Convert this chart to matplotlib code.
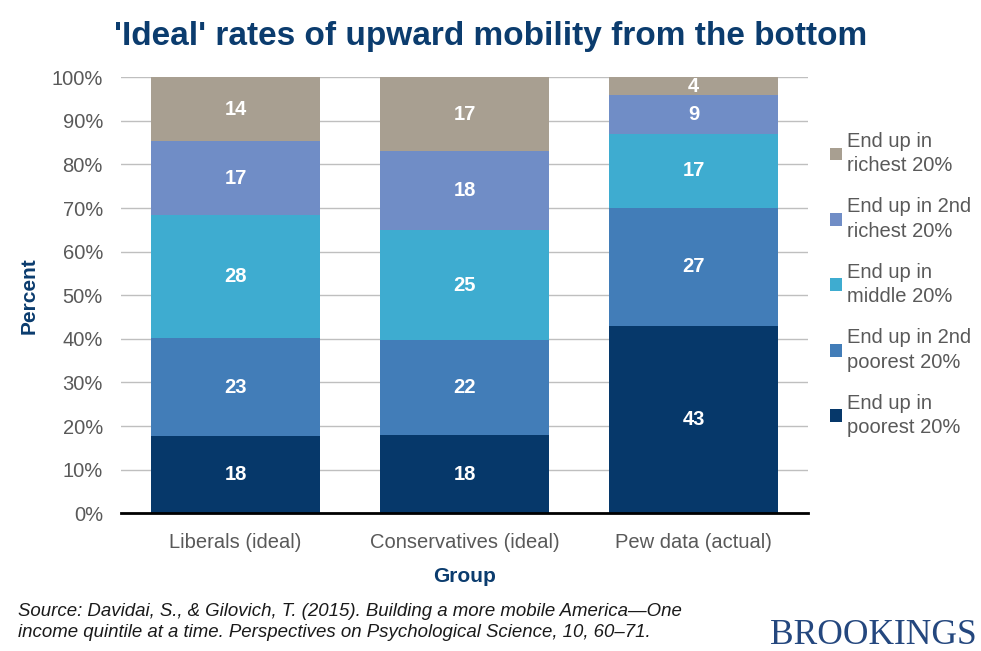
import matplotlib.pyplot as plt
import numpy as np

plt.rcParams['font.family'] = ['Liberation Sans', 'DejaVu Sans']

# Datos (porcentaje en cada quintil final)
groups = ['Liberals (ideal)', 'Conservatives (ideal)', 'Pew data (actual)']
series_names = ['End up in\npoorest 20%', 'End up in 2nd\npoorest 20%', 'End up in\nmiddle 20%',
                'End up in 2nd\nrichest 20%', 'End up in\nrichest 20%']
poorest = [17.7, 18.0, 43.0]
second_poorest = [22.5, 21.7, 27.0]
middle = [28.2, 25.3, 17.1]
second_richest = [17.0, 18.1, 8.8]
richest = [14.6, 16.9, 4.1]
# etiquetas tal como aparecen en las barras
labels_poorest = [18, 18, 43]
labels_second_poorest = [23, 22, 27]
labels_middle = [28, 25, 17]
labels_second_richest = [17, 18, 9]
labels_richest = [14, 17, 4]

colors = ['#06386A', '#427DB8', '#3EACD0', '#708DC6', '#A89F91']
navy = '#0B3C6E'

series = [poorest, second_poorest, middle, second_richest, richest]
labels = [labels_poorest, labels_second_poorest, labels_middle, labels_second_richest, labels_richest]

fig = plt.figure(figsize=(9.81, 6.51), dpi=100)
ax = fig.add_axes([121 / 981, 1 - 513.3 / 651, 687 / 981, 436 / 651])

x = np.arange(len(groups))
bottom = np.zeros(len(groups))
handles = []
for vals, labs, col, name in zip(series, labels, colors, series_names):
    b = ax.bar(x, vals, width=0.738, bottom=bottom, color=col, label=name, zorder=3)
    handles.append(b)
    for xi, v, bt, lab in zip(x, vals, bottom, labs):
        ax.text(xi, bt + v / 2, str(lab), ha='center', va='center', color='white',
                fontsize=14.5, fontweight='bold', zorder=4)
    bottom += np.array(vals)

ax.set_xlim(-0.5, 2.5)
ax.set_ylim(0, 100)
ax.set_yticks(np.arange(0, 101, 10))
ax.set_yticklabels([f'{v}%' for v in range(0, 101, 10)])
ax.set_xticks(x)
ax.set_xticklabels(groups)
ax.yaxis.grid(True, color='#BFBFBF', linewidth=1, zorder=0)
ax.tick_params(axis='both', length=0, labelsize=14.5, labelcolor='#595959')
ax.tick_params(axis='y', pad=13)
ax.tick_params(axis='x', pad=14)
for s in ['top', 'right', 'left']:
    ax.spines[s].set_visible(False)
ax.spines['bottom'].set_color('black')
ax.spines['bottom'].set_linewidth(2)
ax.spines['bottom'].set_zorder(5)

ax.set_ylabel('Percent', fontsize=15, fontweight='bold', color=navy, labelpad=9)
ax.set_xlabel('Group', fontsize=15, fontweight='bold', color=navy, labelpad=11)

fig.text(0.5, 1 - 37 / 651, "'Ideal' rates of upward mobility from the bottom", ha='center', va='center',
         fontsize=24, fontweight='bold', color=navy)

# Leyenda en orden inverso
leg = fig.legend(handles[::-1], series_names[::-1], loc='upper left',
                 bbox_to_anchor=(822 / 981, 1 - 124 / 651), frameon=False,
                 fontsize=14.5, handlelength=0.6, handleheight=0.6, handletextpad=0.25,
                 labelspacing=1.1, borderaxespad=0)
for t in leg.get_texts():
    t.set_color('#595959')
    t.set_linespacing(1.35)

fig.text(18 / 981, 1 - 622 / 651,
         'Source: Davidai, S., & Gilovich, T. (2015). Building a more mobile America\u2014One\n'
         'income quintile at a time. Perspectives on Psychological Science, 10, 60\u201371.',
         ha='left', va='center', fontsize=13.45, style='italic', color='#1A1A1A', linespacing=1.24)
fig.text(977 / 981, 1 - 636 / 651, 'BROOKINGS', ha='right', va='center', fontsize=25.5,
         family='Liberation Serif', color='#24477E')

plt.savefig('out.png', dpi=100)
